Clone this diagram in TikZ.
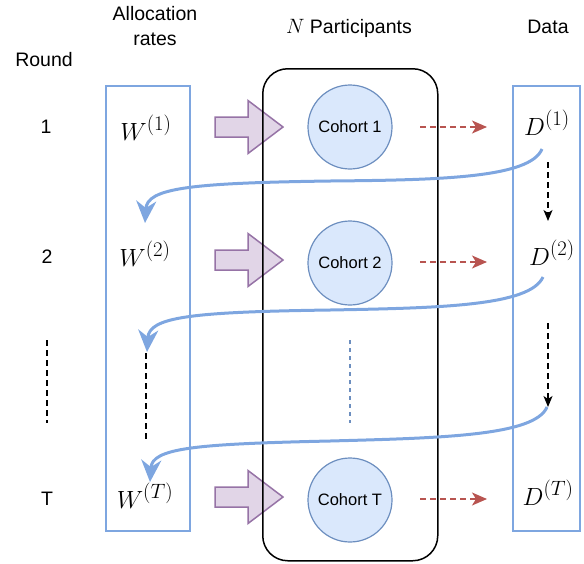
\documentclass[tikz,border=0pt]{standalone}
\usepackage{fontspec}
\setmainfont{Liberation Sans}
\usetikzlibrary{arrows.meta}
\definecolor{bluebd}{HTML}{7EA6E0}
\definecolor{cohfill}{HTML}{DAE8FC}
\definecolor{cohdraw}{HTML}{6C8EBF}
\definecolor{purfill}{HTML}{E1D5E7}
\definecolor{purdraw}{HTML}{9673A6}
\definecolor{reddash}{HTML}{B85450}
\newcommand\purplearrow[2]{%
  \draw[fatarrow] (215,#1-10) -- (248,#1-10) -- (248,#1-26.5) -- (283,#1) -- (248,#1+26.5) -- (248,#1+10) -- (215,#1+10) -- cycle;
  \coordinate (#2) at (283,#1);}
\begin{document}
\begin{tikzpicture}[x=1pt,y=-1pt,
  lbl/.style={font=\fontsize{19.5}{23}\selectfont, inner sep=0pt, anchor=base},
  mathlbl/.style={font=\fontsize{24.88}{30}\selectfont, inner sep=0pt, anchor=base},
  colbox/.style={draw=bluebd, line width=1.5pt, anchor=north west, inner sep=0pt},
  cohort/.style={circle, draw=cohdraw, fill=cohfill, line width=1.2pt, minimum size=84pt, inner sep=0pt, font=\fontsize{16.5}{20}\selectfont},
  fatarrow/.style={draw=purdraw, fill=purfill, line width=1.5pt, line join=miter},
  redarr/.style={draw=reddash, line width=1.5pt, dash pattern=on 6pt off 4pt, -{Stealth[length=15pt,width=13pt,inset=4pt]}},
  blkarr/.style={draw=black, line width=1.5pt, dash pattern=on 6pt off 4pt, -{Stealth[length=11pt,width=9pt,inset=3pt]}},
  blkdash/.style={draw=black, line width=1.5pt, dash pattern=on 6pt off 4pt},
  bluedots/.style={draw=cohdraw, line width=1.5pt, dash pattern=on 4pt off 4pt},
  bluecurve/.style={draw=bluebd, line width=3pt, -{Stealth[length=22pt,width=20pt,inset=7pt]}},
]
\useasboundingbox (0,0) rectangle (584,563);

% headers
\node[lbl] (round) at (44,66) {Round};
\node[lbl] (alloc1) at (155,20) {Allocation};
\node[lbl] (alloc2) at (155,45) {rates};
\node[lbl] (part) at (349,33) {$N$ Participants};
\node[lbl] (data) at (548,33) {Data};

% round numbers
\node[lbl] (r1) at (46,133) {1};
\node[lbl] (r2) at (47,263) {2};
\node[lbl] (rT) at (47,505) {T};
\coordinate (rdots1) at (47,340);
\coordinate (rdots2) at (47,423);
\draw[blkdash] (rdots1) -- (rdots2);

% column boxes
\node[colbox, minimum width=84pt, minimum height=445pt] (wbox) at (105,85) {};
\node[colbox, minimum width=67pt, minimum height=445pt] (dbox) at (512,85) {};

% W labels
\node[mathlbl] (w1) at (146,140) {$W^{(1)}$};
\node[mathlbl] (w2) at (145,266) {$W^{(2)}$};
\node[mathlbl] (wT) at (145,508) {$W^{(T)}$};

% D labels
\node[mathlbl] (d1) at (547,135) {$D^{(1)}$};
\node[mathlbl] (d2) at (552,265) {$D^{(2)}$};
\node[mathlbl] (dT) at (548,505) {$D^{(T)}$};

% purple arrows
\purplearrow{127}{pa1}
\purplearrow{260}{pa2}
\purplearrow{497}{paT}

% red dashed arrows
\coordinate (rs1) at (420,127); \coordinate (re1) at (487,127);
\coordinate (rs2) at (420,262); \coordinate (re2) at (487,262);
\coordinate (rsT) at (420,499); \coordinate (reT) at (487,499);
\draw[redarr] (rs1) -- (re1);
\draw[redarr] (rs2) -- (re2);
\draw[redarr] (rsT) -- (reT);

% participants panel
\node[draw=black, line width=1.5pt, rounded corners=25pt, minimum width=175pt, minimum height=492pt, anchor=north west, inner sep=0pt] (panel) at (262,68) {};

% cohorts
\node[cohort] (c1) at (350,127) {Cohort 1};
\node[cohort] (c2) at (350,263) {Cohort 2};
\node[cohort] (cT) at (350,500) {Cohort T};
\coordinate (cdots1) at (350,340);
\coordinate (cdots2) at (350,423);
\draw[bluedots] (cdots1) -- (cdots2);

% black dashed arrows in data column
\coordinate (ds1) at (548,162); \coordinate (de1) at (548,221);
\coordinate (ds2) at (548,323); \coordinate (de2) at (548,407);
\draw[blkarr] (ds1) -- (de1);
\draw[blkarr] (ds2) -- (de2);

% dashed line in W column
\coordinate (wd1) at (146,353);
\coordinate (wd2) at (146,440);
\draw[blkdash] (wd1) -- (wd2);

% blue feedback curves
\coordinate (fs1) at (542,149); \coordinate (fm1) at (330,181); \coordinate (fe1) at (145,223);
\coordinate (fs2) at (543,277); \coordinate (fm2) at (330,310); \coordinate (fe2) at (147,352);
\coordinate (fs3) at (547,407); \coordinate (fm3) at (330,441); \coordinate (fe3) at (150,482);
\draw[bluecurve] (fs1) .. controls (530,178) and (440,180) .. (fm1) .. controls (190,183) and (147,188) .. (fe1);
\draw[bluecurve] (fs2) .. controls (530,306) and (440,308) .. (fm2) .. controls (190,312) and (149,317) .. (fe2);
\draw[bluecurve] (fs3) .. controls (535,436) and (440,438) .. (fm3) .. controls (195,444) and (152,448) .. (fe3);
\end{tikzpicture}
\end{document}
